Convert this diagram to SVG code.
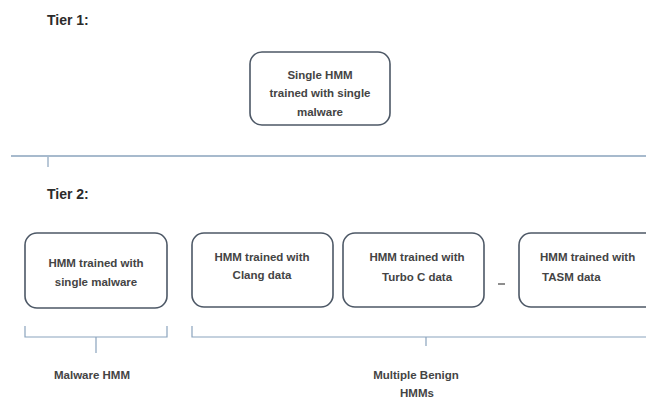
<svg xmlns="http://www.w3.org/2000/svg" width="646" height="399" viewBox="0 0 646 399">
<style>
.box{fill:#fff;stroke:#4d5866;stroke-width:1.6}
.t{font-family:"Liberation Sans",Arial,sans-serif;font-size:11.5px;font-weight:bold;fill:#444;text-anchor:middle}
.tl{text-anchor:start}
.tier{font-family:"Liberation Sans",Arial,sans-serif;font-size:14px;fill:#2b2b2b;font-weight:bold}
.ln{stroke:#8aa3bd;stroke-width:1.5;fill:none}
.br{stroke:#8aa3bd;stroke-width:1.2;fill:none}
</style>
<rect width="646" height="399" fill="#fff"/>
<text class="tier" x="47" y="25">Tier 1:</text>
<text class="tier" x="47" y="199">Tier 2:</text>
<g id="tier1-hmm">
<rect class="box" x="250" y="52" width="140" height="73" rx="12"/>
<text class="t" x="320" y="79">Single HMM</text>
<text class="t" x="320" y="97">trained with single</text>
<text class="t" x="320" y="116">malware</text>
</g>
<g id="malware-hmm">
<rect class="box" x="25" y="233" width="142" height="75" rx="12"/>
<text class="t" x="96" y="267">HMM trained with</text>
<text class="t" x="96" y="286">single malware</text>
</g>
<g id="clang-hmm">
<rect class="box" x="192" y="233" width="141" height="74" rx="12"/>
<text class="t" x="262" y="261">HMM trained with</text>
<text class="t" x="262" y="279">Clang data</text>
</g>
<g id="turboc-hmm">
<rect class="box" x="343" y="233" width="141" height="74" rx="12"/>
<text class="t" x="417" y="261">HMM trained with</text>
<text class="t" x="417" y="281">Turbo C data</text>
</g>
<g id="tasm-hmm">
<rect class="box" x="519" y="233" width="150" height="74" rx="12"/>
<text class="t tl" x="540" y="261">HMM trained with</text>
<text class="t tl" x="542" y="281">TASM data</text>
</g>
<g id="connectors">
<line class="ln" x1="11" y1="156" x2="646" y2="156"/>
<line class="br" x1="48" y1="157" x2="48" y2="167"/>
<path class="br" d="M25 326 V337 H167 V326 M96 337 V353"/>
<path class="br" d="M192 326 V337 H646 M426 337 V346"/>
<line x1="498" y1="284" x2="505" y2="284" stroke="#444" stroke-width="1.2"/>
</g>
<text class="t" x="92" y="379">Malware HMM</text>
<text class="t" x="416" y="379">Multiple Benign</text>
<text class="t" x="417" y="397">HMMs</text>
</svg>
